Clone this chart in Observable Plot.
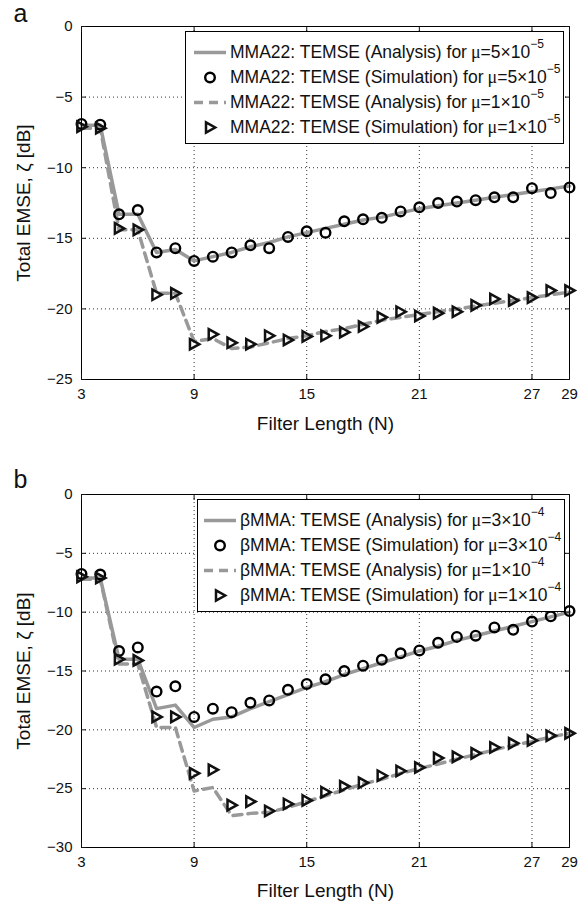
<!DOCTYPE html>
<html><head><meta charset="utf-8">
<script src="https://cdn.jsdelivr.net/npm/d3@7"></script>
<script src="https://cdn.jsdelivr.net/npm/@observablehq/plot@0.6"></script>
<style>
body{margin:0;background:#fff;font-family:"Liberation Sans",Arial,sans-serif;}
#wrap{position:relative;width:588px;height:904px;}
.panel{position:absolute;left:0;}
.legend{position:absolute;border:1px solid #000;background:#fff;box-sizing:border-box;font-size:17.5px;color:#111;}
.row{position:absolute;height:25px;display:flex;align-items:center;white-space:nowrap;}
.row svg{flex:none;margin-right:4px;}
.mu{font-family:"Liberation Serif",serif;font-size:18px;margin-left:4px;}
.sup{font-size:12px;position:relative;top:-9px;}
</style></head><body><div id="wrap"></div><script>
// ---------- data ----------
const filterLength = [3,4,5,6,7,8,9,10,11,12,13,14,15,16,17,18,19,20,21,22,23,24,25,26,27,28,29];
const xTicks = [3,9,15,21,27,29];
const yTicksA = [0,-5,-10,-15,-20,-25];
const yTicksB = [0,-5,-10,-15,-20,-25,-30];

// panel a (MMA22)
const anaA_mu5e5 = [-7.0,-7.0,-13.3,-13.3,-16.0,-15.8,-16.6,-16.3,-16.0,-15.6,-15.3,-14.9,-14.6,-14.3,-14.0,-13.7,-13.5,-13.2,-12.9,-12.7,-12.5,-12.3,-12.1,-11.9,-11.7,-11.5,-11.3];
const simA_mu5e5 = [-6.9,-6.95,-13.3,-13.0,-16.0,-15.7,-16.6,-16.3,-16.0,-15.5,-15.7,-14.9,-14.5,-14.6,-13.8,-13.65,-13.55,-13.1,-12.8,-12.5,-12.4,-12.3,-12.1,-12.1,-11.45,-11.8,-11.4];
const anaA_mu1e5 = [-7.2,-7.2,-14.4,-14.4,-18.9,-18.9,-22.3,-22.1,-22.8,-22.7,-22.4,-22.1,-21.9,-21.6,-21.4,-21.1,-20.8,-20.6,-20.4,-20.2,-20.0,-19.8,-19.6,-19.4,-19.2,-19.0,-18.8];
const simA_mu1e5 = [-7.1,-7.2,-14.3,-14.4,-19.0,-18.9,-22.5,-21.8,-22.4,-22.5,-21.9,-22.2,-21.95,-21.9,-21.65,-21.25,-20.6,-20.2,-20.5,-20.3,-20.2,-19.75,-19.3,-19.4,-19.2,-18.7,-18.7];

// panel b (betaMMA)
const anaB_mu3e4 = [-7.1,-7.1,-14.0,-14.0,-18.2,-17.9,-19.8,-19.1,-18.9,-18.2,-17.6,-17.0,-16.4,-15.9,-15.3,-14.8,-14.3,-13.8,-13.3,-12.9,-12.4,-12.0,-11.6,-11.2,-10.8,-10.4,-10.0];
const simB_mu3e4 = [-6.75,-6.8,-13.3,-13.0,-16.75,-16.3,-18.9,-18.2,-18.5,-17.7,-17.5,-16.6,-16.1,-15.7,-15.0,-14.55,-14.05,-13.5,-13.25,-12.6,-12.1,-12.0,-11.3,-11.5,-10.8,-10.35,-9.9];
const anaB_mu1e4 = [-7.2,-7.2,-14.4,-14.4,-19.8,-19.8,-25.2,-24.9,-27.3,-27.1,-27.0,-26.6,-26.1,-25.6,-25.1,-24.6,-24.2,-23.7,-23.3,-22.9,-22.5,-22.1,-21.7,-21.3,-21.0,-20.6,-20.3];
const simB_mu1e4 = [-7.0,-7.1,-14.0,-14.1,-18.9,-18.9,-23.7,-23.4,-26.4,-26.1,-26.9,-26.3,-26.0,-25.3,-24.8,-24.5,-23.9,-23.5,-23.2,-22.4,-22.3,-22.0,-21.5,-21.15,-20.9,-20.5,-20.3];

const legendA = [
  {name:"MMA22: TEMSE (Analysis) for", mu:"5", exp:"−5", kind:"solid"},
  {name:"MMA22: TEMSE (Simulation) for", mu:"5", exp:"−5", kind:"circle"},
  {name:"MMA22: TEMSE (Analysis) for", mu:"1", exp:"−5", kind:"dash"},
  {name:"MMA22: TEMSE (Simulation) for", mu:"1", exp:"−5", kind:"tri"}
];
const legendB = [
  {name:"βMMA: TEMSE (Analysis) for", mu:"3", exp:"−4", kind:"solid"},
  {name:"βMMA: TEMSE (Simulation) for", mu:"3", exp:"−4", kind:"circle"},
  {name:"βMMA: TEMSE (Analysis) for", mu:"1", exp:"−4", kind:"dash"},
  {name:"βMMA: TEMSE (Simulation) for", mu:"1", exp:"−4", kind:"tri"}
];

const xLabel = "Filter Length (N)";
const yLabel = "Total EMSE, ζ [dB]";

// ---------- drawing ----------
const GRAY = "#999999";
const fmt = d => d < 0 ? "−" + (-d) : String(d);
const triRight = {draw(ctx, size){ const r = Math.sqrt(size/Math.PI); ctx.moveTo(-0.8*r,-r); ctx.lineTo(r,0); ctx.lineTo(-0.8*r,r); ctx.closePath(); }};
const rows = ys => filterLength.map((n,i)=>({n, v: ys[i]}));

function panel({yDomain, yTicks, ana1, sim1, ana2, sim2, height, marginTop, marginBottom, letter, letterDy, labelDy}) {
  return Plot.plot({
    width: 588, height, marginTop, marginBottom, marginLeft: 81, marginRight: 19,
    style: {fontFamily: "'Liberation Sans', Arial, sans-serif", fontSize: "15px", color: "#111", background: "transparent", overflow: "visible"},
    x: {domain: [3,29]},
    y: {domain: yDomain},
    marks: [
      Plot.gridX(xTicks, {stroke:"#000", strokeOpacity:0.8, strokeDasharray:"1,3"}),
      Plot.gridY(yTicks, {stroke:"#000", strokeOpacity:0.8, strokeDasharray:"1,3"}),
      Plot.line(rows(ana1), {x:"n", y:"v", stroke:GRAY, strokeWidth:3.5}),
      Plot.line(rows(ana2), {x:"n", y:"v", stroke:GRAY, strokeWidth:3.5, strokeDasharray:"9,6"}),
      Plot.dot(rows(sim1), {x:"n", y:"v", r:4.8, stroke:"#000", strokeWidth:2.4, fill:"none"}),
      Plot.dot(rows(sim2), {x:"n", y:"v", symbol:triRight, r:5.2, stroke:"#111", strokeWidth:2.5, fill:"none"}),
      Plot.frame({stroke:"#000"}),
      Plot.axisX(xTicks, {anchor:"bottom", tickSize:0, tickPadding:9, label:null, tickFormat:fmt}),
      Plot.axisX(xTicks, {anchor:"bottom", tickSize:-5, label:null, tickFormat:()=>""}),
      Plot.axisX(xTicks, {anchor:"top", tickSize:-5, label:null, tickFormat:()=>""}),
      Plot.axisY(yTicks, {anchor:"left", tickSize:0, tickPadding:9, label:null, tickFormat:fmt}),
      Plot.axisY(yTicks, {anchor:"left", tickSize:-5, label:null, tickFormat:()=>""}),
      Plot.axisY(yTicks, {anchor:"right", tickSize:-5, label:null, tickFormat:()=>""}),
      Plot.text([xLabel], {frameAnchor:"bottom", dy:labelDy, text:d=>d, fontSize:19, textAnchor:"middle", lineAnchor:"middle"}),
      Plot.text([yLabel], {frameAnchor:"left", dx:-58, rotate:-90, text:d=>d, fontSize:19, textAnchor:"middle", lineAnchor:"middle"}),
      Plot.text([letter], {frameAnchor:"top-left", dx:-61, dy:letterDy, text:d=>d, fontSize:25, textAnchor:"middle", lineAnchor:"middle"})
    ]
  });
}

function legend(items, {left, top, width, symLeft}) {
  const box = document.createElement("div");
  box.className = "legend";
  Object.assign(box.style, {left:left+"px", top:top+"px", width:width+"px", height:"113px"});
  items.forEach((it, i) => {
    const row = document.createElement("div");
    row.className = "row";
    row.style.left = symLeft + "px";
    row.style.top = (8 + i*25) + "px";
    let sym = "";
    if (it.kind === "solid") sym = `<line x1="0" x2="32" y1="12.5" y2="12.5" stroke="${GRAY}" stroke-width="3.5"/>`;
    if (it.kind === "dash") sym = `<line x1="0" x2="32" y1="12.5" y2="12.5" stroke="${GRAY}" stroke-width="3.5" stroke-dasharray="9,6"/>`;
    if (it.kind === "circle") sym = `<circle cx="16" cy="12.5" r="4.8" fill="none" stroke="#000" stroke-width="2.4"/>`;
    if (it.kind === "tri") sym = `<path d="M12,7.3L21.2,12.5L12,17.7Z" fill="none" stroke="#111" stroke-width="2.5"/>`;
    row.innerHTML = `<svg width="32" height="25">${sym}</svg><span>${it.name}</span><span class="mu">μ</span><span>=${it.mu}×10</span><span class="sup">${it.exp}</span>`;
    box.appendChild(row);
  });
  return box;
}

const wrap = document.getElementById("wrap");
const pa = panel({yDomain:[-25,0], yTicks:yTicksA, ana1:anaA_mu5e5, sim1:simA_mu5e5, ana2:anaA_mu1e5, sim2:simA_mu1e5, height:440, marginTop:26, marginBottom:61, letter:"a", letterDy:-13, labelDy:44});
pa.classList.add("panel"); pa.style.top = "0px";
const pb = panel({yDomain:[-30,0], yTicks:yTicksB, ana1:anaB_mu3e4, sim1:simB_mu3e4, ana2:anaB_mu1e4, sim2:simB_mu1e4, height:464, marginTop:54, marginBottom:57, letter:"b", letterDy:-15, labelDy:43});
pb.classList.add("panel"); pb.style.top = "440px";
wrap.appendChild(pa); wrap.appendChild(pb);
wrap.appendChild(legend(legendA, {left:185, top:31, width:379, symLeft:8}));
wrap.appendChild(legend(legendB, {left:197, top:499, width:368, symLeft:6}));
</script></body></html>
